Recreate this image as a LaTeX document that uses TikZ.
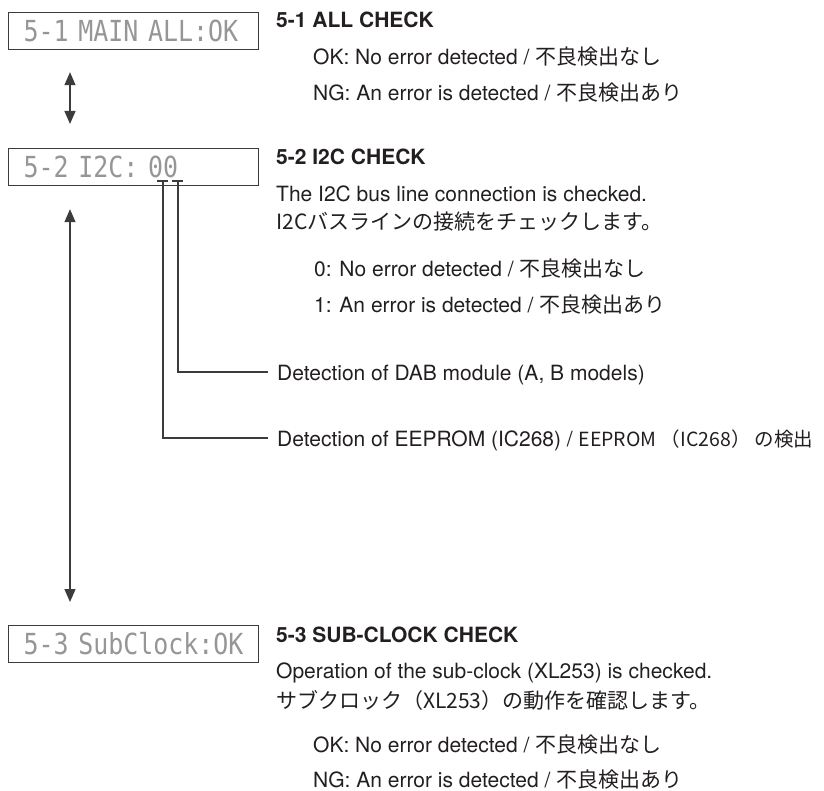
\documentclass[tikz,border=0pt]{standalone}
\usepackage{fontspec}
\setmainfont{TeX Gyre Heros}
\newfontfamily\cjk{Noto Sans CJK JP}
\newfontfamily\lcdfont[FakeStretch=0.86]{DejaVu Sans Mono}
\usetikzlibrary{arrows.meta}
\definecolor{ink}{RGB}{35,31,32}
\definecolor{lcdgray}{RGB}{150,150,150}
\definecolor{linegray}{RGB}{60,60,60}
\begin{document}
\begin{tikzpicture}[x=1pt,y=-1pt,
  lcdbox/.style={draw=linegray, line width=1.2pt, anchor=north west, text width=220pt,
    inner xsep=15pt, inner ysep=0pt, text height=21pt, text depth=0pt,
    minimum height=37pt, align=left, text=lcdgray,
    font=\lcdfont\fontsize{29}{29}\selectfont},
  txt/.style={anchor=base west, inner sep=0pt, text=ink, font=\fontsize{21}{25}\selectfont},
  ttl/.style={anchor=base west, inner sep=0pt, text=ink, font=\fontsize{21}{25}\selectfont\bfseries},
  twoway/.style={draw=linegray, line width=1.3pt,
    {Triangle[length=13pt,width=11pt]}-{Triangle[length=13pt,width=11pt]}},
  lead/.style={draw=linegray, line width=1.2pt}]
\useasboundingbox (0,0) rectangle (824,791);

% LCD boxes
\node[lcdbox] (b1) at (8,12)  {5-1\ MAIN\ ALL:OK};
\node[lcdbox] (b2) at (8,148) {5-2\ I2C:\ 00};
\node[lcdbox] (b3) at (8,625) {5-3\ SubClock:OK};

% arrows
\coordinate (ax) at (70,0);
\draw[twoway, shorten <=22pt, shorten >=24pt] (b1.south -| ax) -- (b2.north -| ax);
\draw[twoway, shorten <=23pt, shorten >=23pt] (b2.south -| ax) -- (b3.north -| ax);

% block 5-1
\node[ttl] (t11) at (276,28) {5-1 ALL CHECK};
\node[txt] (t12) at (313,65) {OK: No error detected / {\cjk 不良検出なし}};
\node[txt] (t13) at (313,101) {NG: An error is detected / {\cjk 不良検出あり}};

% block 5-2
\node[ttl] (t21) at (276,165) {5-2 I2C CHECK};
\node[txt] (t22) at (276,202) {The I2C bus line connection is checked.};
\node[txt] (t23) at (276,230) {\cjk I2Cバスラインの接続をチェックします。};
\node[txt] (t24) at (314,277) {0: No error detected / {\cjk 不良検出なし}};
\node[txt] (t25) at (314,313) {1: An error is detected / {\cjk 不良検出あり}};
\node[txt] (dab) at (277,380) {Detection of DAB module (A, B models)};
\node[txt] (eep) at (277,446) {Detection of EEPROM (IC268) / {\cjk\fontsize{19.5}{24}\selectfont EEPROM （IC268） の検出}};

% leaders from the digits
\coordinate (k1a) at (157,181);
\coordinate (k1b) at (168,181);
\coordinate (k1) at (163,181);
\coordinate (k2a) at (172,181);
\coordinate (k2b) at (183,181);
\coordinate (k2) at (178,181);
\draw[lead] (k1a) -- (k1b);
\draw[lead] (k2a) -- (k2b);
\draw[lead] (k2) |- ([xshift=-9pt,yshift=8pt]dab.base west);
\draw[lead] (k1) |- ([xshift=-9pt,yshift=8pt]eep.base west);

% block 5-3
\node[ttl] (t31) at (276,642) {5-3 SUB-CLOCK CHECK};
\node[txt] (t32) at (276,678) {Operation of the sub-clock (XL253) is checked.};
\node[txt] (t33) at (276,708) {\cjk サブクロック（XL253）の動作を確認します。};
\node[txt] (t34) at (313,752) {OK: No error detected / {\cjk 不良検出なし}};
\node[txt] (t35) at (313,787) {NG: An error is detected / {\cjk 不良検出あり}};
\end{tikzpicture}
\end{document}
